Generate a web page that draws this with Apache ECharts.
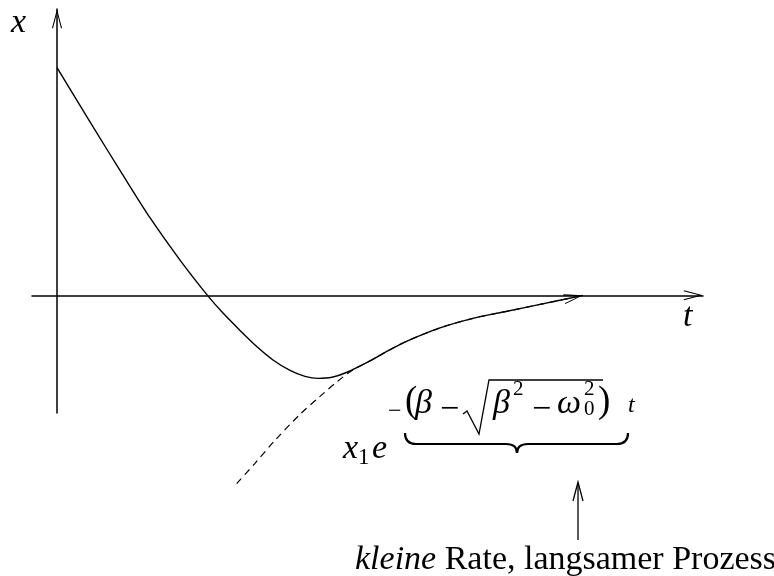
<!DOCTYPE html>
<html>
<head>
<meta charset="utf-8">
<script src="https://cdn.jsdelivr.net/npm/echarts@6/dist/echarts.min.js"></script>
<style>
  html, body { margin: 0; padding: 0; background: #fff; }
  #chart { width: 774px; height: 576px; }
</style>
</head>
<body>
<div id="chart"></div>
<script>
// Overdamped oscillator: displacement x over time t (solid)
const motionT = [0, 0.528, 1.04, 1.488, 1.968, 2.408, 2.656, 2.928, 3.2, 3.456, 3.728, 3.968, 4.176, 4.4, 4.64, 5.008, 5.328, 5.6, 6.128, 6.656, 7.2, 7.728, 8.416];
const motionX = [1.0, 0.762, 0.535, 0.341, 0.155, 0, -0.078, -0.154, -0.226, -0.284, -0.33, -0.356, -0.365, -0.36, -0.338, -0.288, -0.239, -0.201, -0.143, -0.101, -0.07, -0.04, 0];

// Slow exponential term x1·e^{-(β-√(β²-ω0²))t} (dashed)
const tailT = [2.875, 3.168, 3.488, 3.888, 4.208, 4.475, 4.72, 5.008, 5.328, 5.6, 6.128, 6.656, 7.2, 7.728, 8.416];
const tailX = [-0.827, -0.738, -0.637, -0.523, -0.444, -0.381, -0.33, -0.288, -0.239, -0.201, -0.143, -0.101, -0.07, -0.04, 0];

// Axis ranges
const tRange = [-0.4, 10.336];
const xRange = [-0.517, 1.258];

const SERIF = '"Liberation Serif", "DejaVu Serif", serif';
// open arrow head, pointing up
const ARROW = 'path://M5,0 L10,19 L9,19.4 L5,4 L1,19.4 L0,19 Z';

const chart = echarts.init(document.getElementById('chart'), null, { renderer: 'canvas' });

function pairs(ts, xs) {
  return ts.map(function (t, i) { return [t, xs[i]]; });
}

const motionData = pairs(motionT, motionX);
const last = motionData.length - 1;
motionData[last] = {
  value: motionData[last],
  symbol: ARROW,
  symbolSize: [10, 19.4],
  symbolRotate: -78.2,
  symbolOffset: [-9.5, 2.0],
  itemStyle: { color: '#000', borderWidth: 0 }
};

// text helper: left x, baseline y
function T(str, x, base, size, italic) {
  return {
    type: 'text',
    x: x,
    y: base - 0.305 * size,
    silent: true,
    style: {
      text: str,
      fill: '#000',
      fontSize: size,
      fontFamily: SERIF,
      fontStyle: italic ? 'italic' : 'normal',
      align: 'left', verticalAlign: 'middle',
      textAlign: 'left', textVerticalAlign: 'middle'
    }
  };
}
function L(x1, y1, x2, y2, w) {
  return { type: 'line', silent: true, shape: { x1: x1, y1: y1, x2: x2, y2: y2 },
           style: { stroke: '#000', lineWidth: w || 1.3 } };
}
function Q(x1, y1, cx, cy, x2, y2, w) {
  return { type: 'bezierCurve', silent: true,
           shape: { x1: x1, y1: y1, cpx1: cx, cpy1: cy, x2: x2, y2: y2 },
           style: { stroke: '#000', lineWidth: w || 1.3, fill: null } };
}
function P(points, w) {
  return { type: 'polyline', silent: true, shape: { points: points },
           style: { stroke: '#000', lineWidth: w || 1.3, fill: null } };
}

const annotations = [
  // axis names
  T('x', 11, 33, 34, true),
  T('t', 683, 327, 34, true),
  // x1 e
  T('x', 343, 459, 34, true),
  T('1', 358, 465, 23, false),
  T('e', 372, 459, 34, true),
  // exponent −(β − √(β² − ω0²)) t
  T('\u2212', 388, 419, 24, false),
  T('(', 405, 414, 37, false),
  T('\u03B2', 415, 414, 34, true),
  T('\u2212', 440, 420, 34, false),
  P([[463, 414], [467, 411], [479, 434], [489, 380], [603, 380]], 1.3),
  T('\u03B2', 493, 414, 34, true),
  T('2', 513, 396, 21, false),
  T('\u2212', 532, 420, 34, false),
  T('\u03C9', 557, 414, 34, true),
  T('2', 584, 396, 21, false),
  T('0', 584, 416, 21, false),
  T(')', 598, 414, 37, false),
  T('t', 628, 413, 24, true),
  // underbrace
  Q(405, 433, 405, 444, 416, 444, 2.2),
  L(416, 444, 506, 444, 2.2),
  Q(506, 444, 517, 444, 517, 453, 2.2),
  Q(517, 453, 517, 444, 528, 444, 2.2),
  L(528, 444, 617, 444, 2.2),
  Q(617, 444, 628, 444, 628, 433, 2.2),
  // pointer arrow
  L(578, 540, 578, 483, 1.3),
  P([[573, 501], [578, 482], [583, 501]], 1.3),
  // caption
  {
    type: 'text', x: 355, y: 570 - 0.305 * 34, silent: true,
    style: {
      text: '{i|kleine} Rate, langsamer Prozess',
      fill: '#000', fontSize: 34, fontFamily: SERIF,
      align: 'left', verticalAlign: 'middle',
      textAlign: 'left', textVerticalAlign: 'middle',
      rich: { i: { fontStyle: 'italic', fontSize: 34, fontFamily: SERIF, fill: '#000' } }
    }
  }
];

const axisLineStyle = { color: '#000', width: 1.5 };

chart.setOption({
  backgroundColor: '#fff',
  animation: false,
  grid: { left: 32, right: 71, top: 9, bottom: 163, containLabel: false },
  xAxis: {
    type: 'value', min: tRange[0], max: tRange[1],
    axisLine: { show: true, onZero: true, lineStyle: axisLineStyle,
                symbol: ['none', ARROW], symbolSize: [10, 19.4], symbolOffset: [0, -9.7] },
    axisTick: { show: false }, axisLabel: { show: false }, splitLine: { show: false }
  },
  yAxis: {
    type: 'value', min: xRange[0], max: xRange[1],
    axisLine: { show: true, onZero: true, lineStyle: axisLineStyle,
                symbol: ['none', ARROW], symbolSize: [10, 19.4], symbolOffset: [0, -9.7] },
    axisTick: { show: false }, axisLabel: { show: false }, splitLine: { show: false }
  },
  series: [
    {
      name: 'x(t)', type: 'line', data: motionData,
      smooth: 0.3, clip: false, silent: true,
      symbol: 'none', showSymbol: true,
      lineStyle: { color: '#000', width: 1.4 },
      itemStyle: { color: '#000', borderWidth: 0 },
      z: 3
    },
    {
      name: 'x1 e^(-λt)', type: 'line', data: pairs(tailT, tailX),
      smooth: 0.3, clip: false, silent: true,
      symbol: 'none',
      lineStyle: { color: '#000', width: 1.2, type: [7, 5] },
      z: 2
    }
  ],
  graphic: { elements: annotations }
});
</script>
</body>
</html>
